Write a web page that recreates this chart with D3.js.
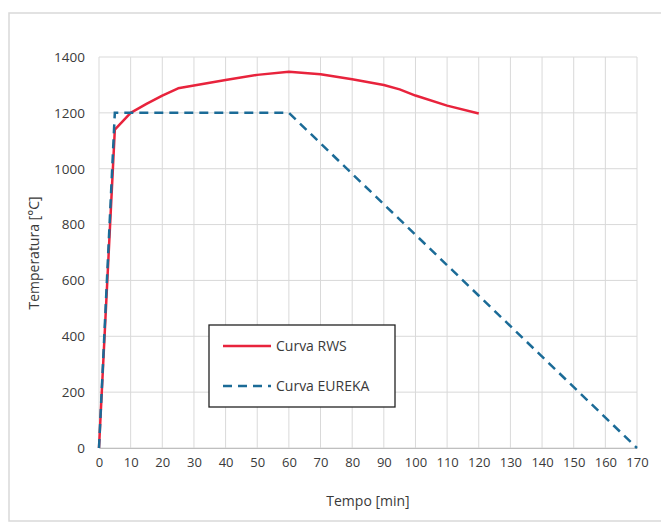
<!DOCTYPE html>
<html><head><meta charset="utf-8">
<script src="https://cdn.jsdelivr.net/npm/d3@7"></script>
<style>body{margin:0;background:#fff}svg{display:block}text{font-family:"Open Sans",sans-serif;fill:#3a3a3a}</style>
</head><body>
<svg id="c" width="661" height="523"></svg>
<script>
const rwsTime = [0,5,10,15,20,25,30,40,50,60,70,80,90,95,100,110,120];
const rwsTemp = [0,1140,1200,1232,1262,1288,1298,1318,1336,1347,1338,1320,1300,1284,1262,1226,1198];
const eurekaTime = [0,5,60,170];
const eurekaTemp = [0,1200,1200,0];
const xTicks = d3.range(0,171,10);
const yTicks = d3.range(0,1401,200);
const seriesNames = ["Curva RWS","Curva EUREKA"];

const svg = d3.select("#c");
svg.append("rect").attr("x",9).attr("y",13).attr("width",670).attr("height",508)
  .attr("fill","#fff").attr("stroke","#d9d9d9").attr("stroke-width",1.5);

const x = d3.scaleLinear().domain([0,170]).range([99,637]);
const y = d3.scaleLinear().domain([0,1400]).range([448,57]);

svg.append("g").selectAll("line").data(xTicks).join("line")
  .attr("x1",d=>x(d)).attr("x2",d=>x(d)).attr("y1",y(0)).attr("y2",y(1400))
  .attr("stroke","#d9d9d9").attr("stroke-width",1);
svg.append("g").selectAll("line").data(yTicks).join("line")
  .attr("x1",x(0)).attr("x2",x(170)).attr("y1",d=>y(d)).attr("y2",d=>y(d))
  .attr("stroke","#d9d9d9").attr("stroke-width",1);

const xa = svg.append("g").attr("transform",`translate(0,${y(0)})`)
  .call(d3.axisBottom(x).tickValues(xTicks).tickFormat(d3.format("d")).tickSize(0).tickPadding(10));
xa.select(".domain").attr("stroke","#bfbfbf");
xa.selectAll("text").style("font-size","13px").attr("fill","#3a3a3a");
const ya = svg.append("g").attr("transform",`translate(${x(0)},0)`)
  .call(d3.axisLeft(y).tickValues(yTicks).tickFormat(d3.format("d")).tickSize(0).tickPadding(14));
ya.select(".domain").remove();
ya.selectAll("text").style("font-size","13.5px").attr("fill","#3a3a3a");

svg.append("text").attr("x",368).attr("y",506).attr("text-anchor","middle")
  .style("font-size","14px").text("Tempo [min]");
svg.append("text").attr("transform","translate(39,253) rotate(-90)").attr("text-anchor","middle")
  .style("font-size","14px").text("Temperatura [°C]");

const line = d3.line().x(d=>x(d[0])).y(d=>y(d[1]));
const rws = rwsTime.map((t,i)=>[t,rwsTemp[i]]);
const eur = eurekaTime.map((t,i)=>[t,eurekaTemp[i]]);
svg.append("path").datum(rws).attr("d",line).attr("fill","none")
  .attr("stroke","#e8233c").attr("stroke-width",2.5).attr("stroke-linejoin","round");
svg.append("path").datum(eur).attr("d",line).attr("fill","none")
  .attr("stroke","#1b6b97").attr("stroke-width",2.5).attr("stroke-dasharray","9,6");

const lg = svg.append("g");
lg.append("rect").attr("x",209).attr("y",325).attr("width",186).attr("height",82)
  .attr("fill","#fff").attr("stroke","#222").attr("stroke-width",1.3);
lg.append("line").attr("x1",223).attr("x2",271).attr("y1",346).attr("y2",346)
  .attr("stroke","#e8233c").attr("stroke-width",2.5);
lg.append("line").attr("x1",223).attr("x2",271).attr("y1",386).attr("y2",386)
  .attr("stroke","#1b6b97").attr("stroke-width",2.5).attr("stroke-dasharray","9,6");
lg.append("text").attr("x",276).attr("y",351).style("font-size","14px").text(seriesNames[0]);
lg.append("text").attr("x",276).attr("y",391).style("font-size","14px").text(seriesNames[1]);
</script>
</body></html>
